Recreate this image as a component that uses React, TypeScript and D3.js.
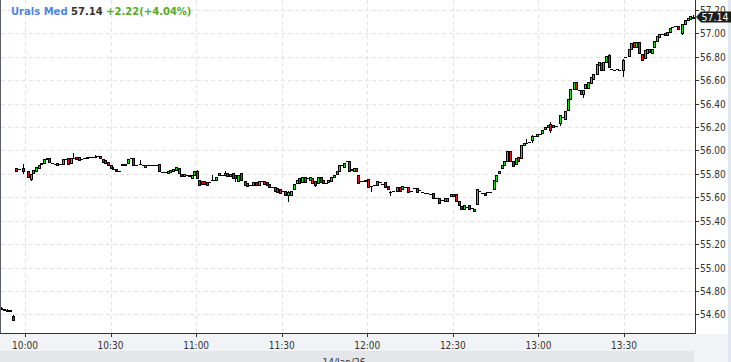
import React from 'react';
import * as d3 from 'd3';

const W = 731;
const H = 362;

const instrumentName = 'Urals Med';
const lastPriceText = '57.14';
const changeText = '+2.22(+4.04%)';
const lastPrice = 57.14;
const sessionDate = '14/Jan/26';
const timeTicks = ['10:00', '10:30', '11:00', '11:30', '12:00', '12:30', '13:00', '13:30'];
const priceTicks = [54.6, 54.8, 55.0, 55.2, 55.4, 55.6, 55.8, 56.0, 56.2, 56.4, 56.6, 56.8, 57.0, 57.2];

// [minutes after 10:00, open, close, high?, low?]
const candleRows: number[][] = [
  [-8.3, 54.655, 54.65, 54.66, 54.645],
  [-7.3, 54.65, 54.64],
  [-6.3, 54.64, 54.63, 54.645, 54.625],
  [-5.3, 54.625, 54.635],
  [-4.2, 54.59, 54.555, 54.595, 54.55],
  [-3.2, 55.853, 55.824],
  [-2.0, 55.838, 55.844],
  [-0.8, 55.853, 55.821, 55.888, 55.81],
  [0.9, 55.829, 55.771],
  [2.0, 55.756, 55.8, 55.8, 55.748],
  [2.9, 55.809, 55.835],
  [3.9, 55.829, 55.859],
  [4.8, 55.853, 55.879],
  [5.7, 55.888, 55.897],
  [6.7, 55.897, 55.926],
  [7.6, 55.926, 55.932],
  [8.5, 55.932, 55.903],
  [9.5, 55.897, 55.897],
  [10.4, 55.888, 55.888],
  [11.3, 55.879, 55.897],
  [12.3, 55.888, 55.888],
  [13.2, 55.888, 55.926],
  [14.1, 55.926, 55.926],
  [15.1, 55.932, 55.888],
  [16.0, 55.897, 55.938],
  [17.0, 55.94, 55.94, 55.976, 55.935],
  [17.9, 55.947, 55.929],
  [18.8, 55.941, 55.923],
  [19.7, 55.926, 55.926],
  [20.7, 55.932, 55.932],
  [21.6, 55.932, 55.947],
  [22.5, 55.947, 55.947],
  [23.5, 55.947, 55.947],
  [24.4, 55.947, 55.947, 55.958],
  [25.3, 55.955, 55.955],
  [26.3, 55.955, 55.932],
  [27.2, 55.926, 55.903],
  [28.1, 55.918, 55.897],
  [29.1, 55.903, 55.874],
  [30.0, 55.874, 55.85],
  [30.9, 55.845, 55.845, 55.86],
  [31.9, 55.844, 55.824],
  [32.8, 55.829, 55.829],
  [34.0, 55.875, 55.882],
  [34.9, 55.874, 55.888],
  [36.1, 55.897, 55.926],
  [37.0, 55.932, 55.932],
  [37.9, 55.932, 55.874],
  [38.9, 55.874, 55.874],
  [40.3, 55.888, 55.888, 55.918],
  [41.2, 55.879, 55.879],
  [42.1, 55.859, 55.879],
  [43.1, 55.879, 55.879],
  [44.0, 55.874, 55.874],
  [44.9, 55.879, 55.879],
  [45.9, 55.879, 55.879],
  [47.0, 55.888, 55.821],
  [48.0, 55.815, 55.815],
  [49.0, 55.815, 55.815],
  [50.1, 55.809, 55.824],
  [51.0, 55.82, 55.835],
  [51.9, 55.829, 55.844],
  [52.9, 55.835, 55.859],
  [53.9, 55.85, 55.81],
  [54.8, 55.8, 55.78],
  [55.7, 55.78, 55.8],
  [56.6, 55.789, 55.789],
  [57.5, 55.78, 55.794],
  [58.4, 55.766, 55.789],
  [59.3, 55.794, 55.823],
  [60.2, 55.828, 55.766, 55.837],
  [61.1, 55.752, 55.709],
  [62.0, 55.743, 55.715],
  [62.9, 55.738, 55.715],
  [63.8, 55.732, 55.709],
  [64.6, 55.732, 55.732],
  [65.4, 55.752, 55.752, 55.794],
  [66.2, 55.749, 55.749],
  [67.1, 55.752, 55.772],
  [68.1, 55.794, 55.808],
  [69.1, 55.794, 55.794],
  [70.0, 55.789, 55.811, 55.828],
  [70.9, 55.811, 55.785],
  [71.9, 55.78, 55.8],
  [72.8, 55.808, 55.766],
  [73.7, 55.789, 55.761, 55.79, 55.738],
  [74.7, 55.743, 55.794],
  [75.8, 55.808, 55.752],
  [77.0, 55.743, 55.709],
  [77.9, 55.724, 55.695],
  [78.9, 55.709, 55.709],
  [80.0, 55.704, 55.732],
  [81.0, 55.732, 55.709],
  [81.9, 55.709, 55.743],
  [82.8, 55.738, 55.738],
  [83.8, 55.738, 55.715],
  [84.7, 55.732, 55.704],
  [85.6, 55.715, 55.687],
  [86.6, 55.687, 55.687],
  [87.5, 55.687, 55.653],
  [88.4, 55.681, 55.647],
  [89.4, 55.667, 55.639],
  [90.3, 55.658, 55.658],
  [91.2, 55.658, 55.624],
  [92.2, 55.619, 55.647, 55.65, 55.568],
  [93.1, 55.624, 55.658],
  [94.3, 55.667, 55.715],
  [95.2, 55.724, 55.752],
  [96.1, 55.766, 55.724],
  [97.1, 55.728, 55.772],
  [98.0, 55.772, 55.732],
  [98.9, 55.766, 55.766],
  [99.8, 55.752, 55.772],
  [100.6, 55.766, 55.724],
  [101.5, 55.738, 55.709, 55.74, 55.695],
  [102.7, 55.724, 55.772],
  [103.6, 55.772, 55.729],
  [104.5, 55.752, 55.724],
  [105.5, 55.724, 55.724],
  [106.4, 55.729, 55.752],
  [107.3, 55.743, 55.772],
  [108.3, 55.772, 55.794],
  [109.4, 55.8, 55.828],
  [110.2, 55.828, 55.88],
  [111.1, 55.879, 55.879],
  [112.0, 55.857, 55.893],
  [112.8, 55.908, 55.908, 55.913],
  [113.6, 55.908, 55.828],
  [114.4, 55.845, 55.83],
  [115.2, 55.828, 55.851],
  [116.0, 55.851, 55.828],
  [116.8, 55.789, 55.724],
  [117.7, 55.743, 55.743],
  [118.6, 55.743, 55.743],
  [119.3, 55.738, 55.752],
  [120.3, 55.76, 55.687],
  [121.2, 55.695, 55.695, 55.7, 55.653],
  [122.2, 55.709, 55.709],
  [123.3, 55.704, 55.743],
  [124.3, 55.732, 55.732],
  [125.2, 55.715, 55.715],
  [126.1, 55.729, 55.687],
  [127.1, 55.695, 55.667],
  [128.0, 55.647, 55.647, 55.65, 55.624],
  [128.9, 55.653, 55.653],
  [130.3, 55.653, 55.687],
  [131.3, 55.687, 55.653],
  [132.2, 55.675, 55.695],
  [133.1, 55.692, 55.692],
  [134.3, 55.687, 55.647],
  [135.2, 55.658, 55.658],
  [136.4, 55.681, 55.681],
  [137.3, 55.681, 55.647],
  [138.3, 55.661, 55.661],
  [139.2, 55.647, 55.647],
  [140.1, 55.641, 55.641],
  [141.1, 55.636, 55.636],
  [142.0, 55.63, 55.63],
  [143.2, 55.639, 55.59],
  [144.1, 55.59, 55.59],
  [145.3, 55.59, 55.553],
  [146.2, 55.573, 55.573],
  [147.1, 55.568, 55.59],
  [148.1, 55.568, 55.596],
  [149.2, 55.61, 55.63],
  [150.2, 55.63, 55.61],
  [151.1, 55.63, 55.568],
  [152.0, 55.568, 55.534],
  [152.9, 55.525, 55.497],
  [153.9, 55.497, 55.534],
  [154.8, 55.52, 55.52],
  [155.8, 55.534, 55.497],
  [156.7, 55.511, 55.511],
  [157.4, 55.483, 55.503],
  [158.3, 55.539, 55.675],
  [159.3, 55.653, 55.653],
  [160.2, 55.639, 55.639],
  [161.1, 55.639, 55.624],
  [162.1, 55.647, 55.647],
  [163.0, 55.647, 55.647],
  [164.4, 55.667, 55.752],
  [165.3, 55.743, 55.789],
  [166.3, 55.808, 55.828],
  [167.2, 55.851, 55.879],
  [168.1, 55.879, 55.908],
  [169.1, 55.913, 55.998],
  [170.0, 55.993, 55.913],
  [171.2, 55.908, 55.865],
  [172.1, 55.886, 55.94],
  [173.0, 55.942, 55.913],
  [174.0, 55.94, 56.043],
  [174.8, 56.043, 56.06],
  [175.7, 56.063, 56.063, 56.1],
  [176.6, 56.071, 56.071],
  [177.6, 56.086, 56.12, 56.134, 56.071],
  [178.5, 56.12, 56.12],
  [179.4, 56.12, 56.143],
  [180.4, 56.143, 56.143],
  [181.3, 56.148, 56.177],
  [182.2, 56.186, 56.2],
  [183.2, 56.2, 56.214],
  [184.1, 56.229, 56.171, 56.24, 56.16],
  [185.0, 56.2, 56.214],
  [186.0, 56.206, 56.206],
  [187.4, 56.234, 56.3, 56.3, 56.22],
  [188.3, 56.286, 56.286],
  [189.2, 56.271, 56.337],
  [190.4, 56.343, 56.443],
  [191.1, 56.443, 56.529],
  [192.3, 56.529, 56.586],
  [193.2, 56.586, 56.529],
  [194.1, 56.514, 56.514],
  [194.8, 56.514, 56.48],
  [195.5, 56.48, 56.52, 56.52, 56.46],
  [196.5, 56.537, 56.566],
  [197.4, 56.537, 56.586],
  [198.3, 56.577, 56.629],
  [199.3, 56.614, 56.657],
  [200.4, 56.651, 56.743],
  [201.4, 56.729, 56.757],
  [202.1, 56.749, 56.691],
  [202.8, 56.691, 56.757],
  [203.7, 56.757, 56.806],
  [204.6, 56.814, 56.709, 56.82],
  [205.6, 56.7, 56.7],
  [206.5, 56.691, 56.691],
  [207.4, 56.7, 56.7],
  [208.4, 56.691, 56.691],
  [209.5, 56.691, 56.777, 56.78, 56.64],
  [210.5, 56.8, 56.8],
  [211.6, 56.806, 56.863],
  [212.6, 56.871, 56.914],
  [213.5, 56.929, 56.88],
  [214.2, 56.886, 56.929],
  [215.1, 56.929, 56.829],
  [216.3, 56.823, 56.777],
  [217.2, 56.786, 56.857],
  [218.2, 56.829, 56.871],
  [218.9, 56.871, 56.843],
  [219.7, 56.829, 56.871],
  [220.5, 56.88, 56.937],
  [221.4, 56.937, 56.977],
  [222.4, 56.966, 56.994],
  [223.3, 56.994, 56.994],
  [224.2, 57.006, 56.986],
  [225.2, 56.986, 57.014],
  [226.1, 57.014, 57.043],
  [227.0, 57.057, 57.057],
  [228.0, 57.063, 57.063],
  [229.0, 57.063, 57.034],
  [230.3, 57.006, 57.08, 57.08, 56.995],
  [231.5, 57.08, 57.114],
  [232.4, 57.114, 57.135],
  [233.3, 57.125, 57.145],
  [234.3, 57.13, 57.14, 57.155, 57.128],
];

const LABEL_FONT = '"DejaVu Sans Condensed", "DejaVu Sans", sans-serif';

function toMinutes(label: string) {
  const [h, m] = label.split(':').map(Number);
  return (h - 10) * 60 + m;
}

export default function App() {
  const plotLeft = 1;
  const plotRight = 695;
  const plotBottom = 333;

  const x = d3.scaleLinear().domain([0, 210]).range([25, 624]);
  const y = d3.scaleLinear().domain([54.6, 57.2]).range([314.4, 10]);

  const green = '#16e416';
  const red = '#e4161c';

  const candles = candleRows.map((r) => {
    const [m, o, c] = r;
    const hi = r.length > 3 ? Math.max(r[3], o, c) : Math.max(o, c);
    const lo = r.length > 4 ? Math.min(r[4], o, c) : Math.min(o, c);
    return { m, o, c, hi, lo };
  });

  const lastY = y(lastPrice);

  return (
    <svg
      width={W}
      height={H}
      viewBox={`0 0 ${W} ${H}`}
      style={{ position: 'absolute', left: 0, top: 0, display: 'block' }}
    >
      {/* backgrounds */}
      <rect x={0} y={0} width={W} height={H} fill="#f1f3f6" />
      <rect x={0} y={0} width={plotRight + 1} height={plotBottom + 1} fill="#ffffff" />
      <rect x={plotRight + 1} y={0} width={W - plotRight - 1} height={plotBottom + 1} fill="#ffffff" />
      <rect x={0} y={351} width={694} height={H - 351} fill="#e4e6e9" />
      <rect x={728} y={0} width={3} height={H} fill="#dfe7f1" />

      {/* grid */}
      <g shapeRendering="crispEdges">
        {priceTicks.map((p) => (
          <line
            key={'hg' + p}
            x1={plotLeft}
            x2={plotRight}
            y1={Math.round(y(p)) + 0.5}
            y2={Math.round(y(p)) + 0.5}
            stroke="#e3e3e3"
            strokeDasharray="4,3"
          />
        ))}
        {timeTicks.map((t) => (
          <line
            key={'vg' + t}
            x1={Math.round(x(toMinutes(t))) + 0.5}
            x2={Math.round(x(toMinutes(t))) + 0.5}
            y1={0}
            y2={plotBottom}
            stroke="#e3e3e3"
            strokeDasharray="4,3"
          />
        ))}
      </g>

      {/* title */}
      <text x={11} y={15} fontFamily='"DejaVu Sans", sans-serif' fontWeight="bold" fontSize={10}>
        <tspan fill="#4f86e6">{instrumentName}</tspan>
        <tspan fill="#333333">{' ' + lastPriceText}</tspan>
        <tspan fill="#55aa2a">{' ' + changeText}</tspan>
      </text>

      {/* candles */}
      <g shapeRendering="crispEdges">
        {candles.map((d, i) => {
          const cx = Math.round(x(d.m));
          const top = Math.round(y(Math.max(d.o, d.c)));
          const bot = Math.round(y(Math.min(d.o, d.c)));
          const yh = Math.round(y(d.hi));
          const yl = Math.round(y(d.lo));
          const flat = bot - top < 1;
          return (
            <g key={i}>
              {yl - yh > 0 && (
                <line x1={cx + 0.5} x2={cx + 0.5} y1={yh} y2={yl + 1} stroke="#000" />
              )}
              {flat ? (
                <line x1={cx - 1} x2={cx + 2} y1={top + 0.5} y2={top + 0.5} stroke="#000" />
              ) : (
                <rect
                  x={cx - 0.5}
                  y={top + 0.5}
                  width={2}
                  height={bot - top}
                  fill={d.c > d.o ? green : red}
                  stroke="#000"
                />
              )}
            </g>
          );
        })}
      </g>

      {/* axes lines */}
      <g shapeRendering="crispEdges">
        <line x1={0.5} x2={0.5} y1={0} y2={plotBottom + 1} stroke="#5a5f66" />
        <line x1={plotRight + 0.5} x2={plotRight + 0.5} y1={0} y2={plotBottom + 1} stroke="#333" />
        <line x1={0} x2={plotRight + 1} y1={plotBottom + 0.5} y2={plotBottom + 0.5} stroke="#333" />
        {priceTicks.map((p) => (
          <line
            key={'pt' + p}
            x1={plotRight + 1}
            x2={plotRight + 4}
            y1={Math.round(y(p)) + 0.5}
            y2={Math.round(y(p)) + 0.5}
            stroke="#333"
          />
        ))}
        {timeTicks.map((t) => (
          <line
            key={'tt' + t}
            x1={Math.round(x(toMinutes(t))) + 0.5}
            x2={Math.round(x(toMinutes(t))) + 0.5}
            y1={plotBottom + 1}
            y2={plotBottom + 4}
            stroke="#333"
          />
        ))}
      </g>

      {/* price labels (topmost label is nudged up to stay inside the frame) */}
      {priceTicks.map((p) => (
        <text
          key={'pl' + p}
          x={700}
          y={Math.max(Math.round(y(p)) + 4, 10.5)}
          fontFamily={LABEL_FONT}
          fontSize={10}
          fill="#333"
        >
          {p.toFixed(2)}
        </text>
      ))}

      {/* time labels */}
      {timeTicks.map((t) => (
        <text
          key={'tl' + t}
          x={x(toMinutes(t))}
          y={349}
          textAnchor="middle"
          fontFamily={LABEL_FONT}
          fontSize={10}
          fill="#333"
        >
          {t}
        </text>
      ))}

      {/* date */}
      <text x={344} y={366} textAnchor="middle" fontFamily={LABEL_FONT} fontSize={10} fill="#333">
        {sessionDate}
      </text>

      {/* last price marker */}
      <path
        d={`M696,${lastY} L701,${lastY - 5.5} L731,${lastY - 5.5} L731,${lastY + 5.5} L701,${lastY + 5.5} Z`}
        fill="#1c1c1c"
      />
      <text x={701.5} y={lastY + 4} fontFamily={LABEL_FONT} fontSize={10.5} fill="#ffffff">
        {lastPriceText}
      </text>
    </svg>
  );
}
